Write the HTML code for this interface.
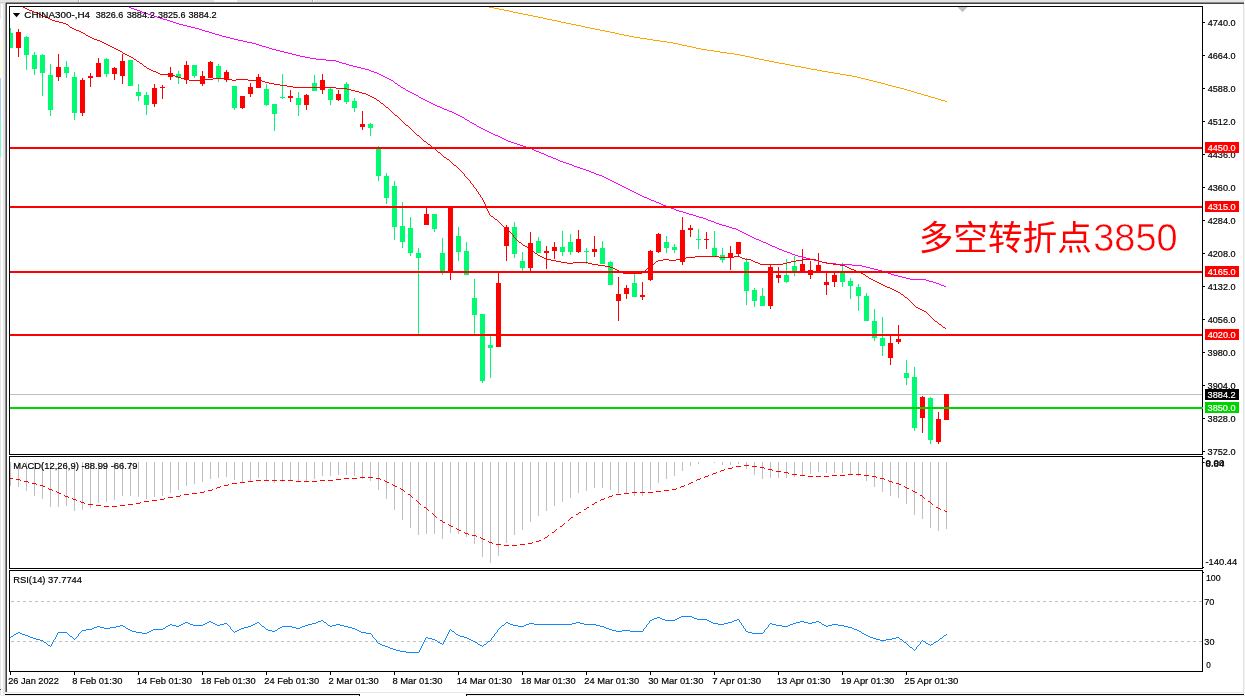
<!DOCTYPE html>
<html><head><meta charset="utf-8"><title>CHINA300-,H4</title>
<style>
html,body{margin:0;padding:0;background:#fff;}
body{width:1245px;height:696px;overflow:hidden;}
svg{display:block;will-change:transform;}
text{font-family:"Liberation Sans",sans-serif;}
.s{font-size:9.8px;fill:#000;stroke:#000;stroke-width:0.2px;}
.w{font-size:9.8px;fill:#fff;stroke:#fff;stroke-width:0.2px;}
</style></head><body>
<svg width="1245" height="696" viewBox="0 0 1245 696">
<rect x="0" y="0" width="1245" height="696" fill="#fff"/>
<g shape-rendering="crispEdges">
<rect x="0" y="0" width="1245" height="2" fill="#e4e4e4"/>
<rect x="0" y="2" width="1245" height="1" fill="#d0d0d0"/>
<rect x="6" y="2" width="1238" height="1" fill="#8c8c8c"/>
<rect x="6" y="3" width="1238" height="1" fill="#444"/>
<rect x="79" y="0" width="1" height="2" fill="#fff"/><rect x="78" y="0" width="1" height="2" fill="#aaa"/>
<rect x="313" y="0" width="1" height="2" fill="#fff"/><rect x="312" y="0" width="1" height="2" fill="#aaa"/>
<rect x="214" y="0" width="23" height="2" fill="#fafafa"/>
<rect x="0" y="3" width="5" height="693" fill="#e6e6e6"/>
<rect x="1" y="4" width="2" height="692" fill="#fbfbfb"/>
<rect x="0" y="19" width="1" height="20" fill="#ffffff"/>
<rect x="0" y="39" width="1" height="39" fill="#ffffd2"/>
<rect x="0" y="78" width="1" height="40" fill="#a8d0f4"/>
<rect x="0" y="118" width="1" height="39" fill="#7ff5d0"/>
<rect x="0" y="689" width="1" height="1" fill="#555"/>
<rect x="5" y="3" width="1" height="689" fill="#909090"/>
<rect x="6" y="3" width="1" height="689" fill="#444"/>
<rect x="1243" y="4" width="1" height="690" fill="#e2e2e2"/>
<rect x="1244" y="0" width="1" height="696" fill="#f4f4f4"/>
<rect x="5" y="692" width="1239" height="1" fill="#e6e6e6"/>
<rect x="5" y="694" width="355" height="1" fill="#000"/><rect x="359" y="694" width="1" height="2" fill="#000"/>
<rect x="466" y="694" width="778" height="1" fill="#000"/><rect x="466" y="694" width="1" height="2" fill="#000"/>
<rect x="0" y="695" width="359" height="1" fill="#f0f0f0"/><rect x="467" y="695" width="778" height="1" fill="#f0f0f0"/>
</g>
<g shape-rendering="crispEdges">
<rect x="10" y="394" width="1192" height="1" fill="#c0c0c0"/>
<rect x="10" y="28" width="1" height="20" fill="#00fb73"/><rect x="10" y="33" width="3" height="15" fill="#00fb73"/>
<rect x="18" y="29" width="1" height="28" fill="#ff0000"/><rect x="16" y="32" width="5" height="16" fill="#ff0000"/>
<rect x="26" y="36" width="1" height="34" fill="#00fb73"/><rect x="24" y="37" width="5" height="18" fill="#00fb73"/>
<rect x="34" y="52" width="1" height="23" fill="#00fb73"/><rect x="32" y="55" width="5" height="14" fill="#00fb73"/>
<rect x="42" y="54" width="1" height="42" fill="#00fb73"/><rect x="40" y="55" width="5" height="18" fill="#00fb73"/>
<rect x="50" y="64" width="1" height="52" fill="#00fb73"/><rect x="48" y="75" width="5" height="35" fill="#00fb73"/>
<rect x="58" y="54" width="1" height="27" fill="#ff0000"/><rect x="56" y="67" width="5" height="10" fill="#ff0000"/>
<rect x="66" y="61" width="1" height="17" fill="#00fb73"/><rect x="64" y="67" width="5" height="6" fill="#00fb73"/>
<rect x="74" y="72" width="1" height="48" fill="#00fb73"/><rect x="72" y="77" width="5" height="36" fill="#00fb73"/>
<rect x="82" y="78" width="1" height="38" fill="#ff0000"/><rect x="80" y="80" width="5" height="33" fill="#ff0000"/>
<rect x="90" y="73" width="1" height="14" fill="#ff0000"/><rect x="88" y="76" width="5" height="2" fill="#ff0000"/>
<rect x="98" y="58" width="1" height="19" fill="#ff0000"/><rect x="96" y="63" width="5" height="14" fill="#ff0000"/>
<rect x="106" y="58" width="1" height="19" fill="#00fb73"/><rect x="104" y="59" width="5" height="15" fill="#00fb73"/>
<rect x="114" y="67" width="1" height="13" fill="#ff0000"/><rect x="112" y="68" width="5" height="6" fill="#ff0000"/>
<rect x="122" y="54" width="1" height="30" fill="#ff0000"/><rect x="120" y="61" width="5" height="15" fill="#ff0000"/>
<rect x="130" y="60" width="1" height="26" fill="#00fb73"/><rect x="128" y="60" width="5" height="26" fill="#00fb73"/>
<rect x="138" y="84" width="1" height="17" fill="#00fb73"/><rect x="136" y="92" width="5" height="4" fill="#00fb73"/>
<rect x="146" y="92" width="1" height="23" fill="#00fb73"/><rect x="144" y="95" width="5" height="10" fill="#00fb73"/>
<rect x="154" y="84" width="1" height="23" fill="#ff0000"/><rect x="152" y="88" width="5" height="16" fill="#ff0000"/>
<rect x="162" y="85" width="1" height="14" fill="#ff0000"/><rect x="160" y="87" width="5" height="1" fill="#ff0000"/>
<rect x="170" y="67" width="1" height="13" fill="#ff0000"/><rect x="168" y="73" width="5" height="4" fill="#ff0000"/>
<rect x="178" y="71" width="1" height="13" fill="#00fb73"/><rect x="176" y="74" width="5" height="4" fill="#00fb73"/>
<rect x="186" y="61" width="1" height="23" fill="#ff0000"/><rect x="184" y="65" width="5" height="15" fill="#ff0000"/>
<rect x="194" y="65" width="1" height="13" fill="#00fb73"/><rect x="192" y="65" width="5" height="11" fill="#00fb73"/>
<rect x="202" y="71" width="1" height="15" fill="#ff0000"/><rect x="200" y="76" width="5" height="8" fill="#ff0000"/>
<rect x="210" y="61" width="1" height="17" fill="#ff0000"/><rect x="208" y="62" width="5" height="16" fill="#ff0000"/>
<rect x="218" y="64" width="1" height="18" fill="#00fb73"/><rect x="216" y="66" width="5" height="12" fill="#00fb73"/>
<rect x="226" y="70" width="1" height="12" fill="#ff0000"/><rect x="224" y="72" width="5" height="8" fill="#ff0000"/>
<rect x="234" y="86" width="1" height="24" fill="#00fb73"/><rect x="232" y="86" width="5" height="22" fill="#00fb73"/>
<rect x="242" y="96" width="1" height="13" fill="#ff0000"/><rect x="240" y="96" width="5" height="12" fill="#ff0000"/>
<rect x="250" y="83" width="1" height="14" fill="#ff0000"/><rect x="248" y="87" width="5" height="7" fill="#ff0000"/>
<rect x="258" y="74" width="1" height="14" fill="#ff0000"/><rect x="256" y="77" width="5" height="11" fill="#ff0000"/>
<rect x="266" y="84" width="1" height="22" fill="#00fb73"/><rect x="264" y="89" width="5" height="16" fill="#00fb73"/>
<rect x="274" y="104" width="1" height="27" fill="#00fb73"/><rect x="272" y="104" width="5" height="10" fill="#00fb73"/>
<rect x="282" y="74" width="1" height="25" fill="#00fb73"/><rect x="280" y="97" width="5" height="1" fill="#00fb73"/>
<rect x="290" y="90" width="1" height="12" fill="#ff0000"/><rect x="288" y="96" width="5" height="2" fill="#ff0000"/>
<rect x="298" y="92" width="1" height="24" fill="#00fb73"/><rect x="296" y="98" width="5" height="7" fill="#00fb73"/>
<rect x="306" y="94" width="1" height="16" fill="#ff0000"/><rect x="304" y="95" width="5" height="10" fill="#ff0000"/>
<rect x="314" y="75" width="1" height="16" fill="#00fb73"/><rect x="312" y="83" width="5" height="8" fill="#00fb73"/>
<rect x="322" y="74" width="1" height="20" fill="#ff0000"/><rect x="320" y="80" width="5" height="10" fill="#ff0000"/>
<rect x="330" y="88" width="1" height="17" fill="#00fb73"/><rect x="328" y="89" width="5" height="11" fill="#00fb73"/>
<rect x="338" y="90" width="1" height="11" fill="#ff0000"/><rect x="336" y="94" width="5" height="6" fill="#ff0000"/>
<rect x="346" y="82" width="1" height="22" fill="#00fb73"/><rect x="344" y="84" width="5" height="18" fill="#00fb73"/>
<rect x="354" y="98" width="1" height="14" fill="#00fb73"/><rect x="352" y="101" width="5" height="7" fill="#00fb73"/>
<rect x="362" y="111" width="1" height="19" fill="#ff0000"/><rect x="360" y="124" width="5" height="3" fill="#ff0000"/>
<rect x="370" y="123" width="1" height="13" fill="#00fb73"/><rect x="368" y="124" width="5" height="4" fill="#00fb73"/>
<rect x="378" y="146" width="1" height="35" fill="#00fb73"/><rect x="376" y="148" width="5" height="28" fill="#00fb73"/>
<rect x="386" y="173" width="1" height="31" fill="#00fb73"/><rect x="384" y="176" width="5" height="22" fill="#00fb73"/>
<rect x="394" y="181" width="1" height="59" fill="#00fb73"/><rect x="392" y="186" width="5" height="41" fill="#00fb73"/>
<rect x="402" y="202" width="1" height="46" fill="#00fb73"/><rect x="400" y="226" width="5" height="16" fill="#00fb73"/>
<rect x="410" y="217" width="1" height="39" fill="#00fb73"/><rect x="408" y="228" width="5" height="25" fill="#00fb73"/>
<rect x="418" y="248" width="1" height="86" fill="#00fb73"/><rect x="416" y="253" width="5" height="5" fill="#00fb73"/>
<rect x="426" y="208" width="1" height="17" fill="#ff0000"/><rect x="424" y="214" width="5" height="11" fill="#ff0000"/>
<rect x="434" y="214" width="1" height="18" fill="#00fb73"/><rect x="432" y="214" width="5" height="15" fill="#00fb73"/>
<rect x="442" y="238" width="1" height="37" fill="#00fb73"/><rect x="440" y="253" width="5" height="18" fill="#00fb73"/>
<rect x="450" y="207" width="1" height="73" fill="#ff0000"/><rect x="448" y="207" width="5" height="64" fill="#ff0000"/>
<rect x="458" y="227" width="1" height="34" fill="#00fb73"/><rect x="456" y="236" width="5" height="16" fill="#00fb73"/>
<rect x="466" y="242" width="1" height="33" fill="#00fb73"/><rect x="464" y="251" width="5" height="24" fill="#00fb73"/>
<rect x="474" y="279" width="1" height="55" fill="#00fb73"/><rect x="472" y="298" width="5" height="17" fill="#00fb73"/>
<rect x="482" y="314" width="1" height="69" fill="#00fb73"/><rect x="480" y="314" width="5" height="67" fill="#00fb73"/>
<rect x="490" y="336" width="1" height="42" fill="#00fb73"/><rect x="488" y="345" width="5" height="3" fill="#00fb73"/>
<rect x="498" y="273" width="1" height="74" fill="#ff0000"/><rect x="496" y="283" width="5" height="64" fill="#ff0000"/>
<rect x="506" y="225" width="1" height="36" fill="#ff0000"/><rect x="504" y="227" width="5" height="19" fill="#ff0000"/>
<rect x="514" y="222" width="1" height="36" fill="#00fb73"/><rect x="512" y="227" width="5" height="27" fill="#00fb73"/>
<rect x="522" y="252" width="1" height="19" fill="#00fb73"/><rect x="520" y="261" width="5" height="7" fill="#00fb73"/>
<rect x="530" y="232" width="1" height="39" fill="#ff0000"/><rect x="528" y="243" width="5" height="25" fill="#ff0000"/>
<rect x="538" y="237" width="1" height="16" fill="#00fb73"/><rect x="536" y="241" width="5" height="12" fill="#00fb73"/>
<rect x="546" y="246" width="1" height="23" fill="#ff0000"/><rect x="544" y="251" width="5" height="2" fill="#ff0000"/>
<rect x="554" y="242" width="1" height="17" fill="#ff0000"/><rect x="552" y="247" width="5" height="4" fill="#ff0000"/>
<rect x="562" y="231" width="1" height="25" fill="#00fb73"/><rect x="560" y="247" width="5" height="5" fill="#00fb73"/>
<rect x="570" y="234" width="1" height="21" fill="#00fb73"/><rect x="568" y="242" width="5" height="10" fill="#00fb73"/>
<rect x="578" y="230" width="1" height="23" fill="#ff0000"/><rect x="576" y="239" width="5" height="13" fill="#ff0000"/>
<rect x="586" y="248" width="1" height="16" fill="#00fb73"/><rect x="584" y="251" width="5" height="1" fill="#00fb73"/>
<rect x="594" y="236" width="1" height="21" fill="#ff0000"/><rect x="592" y="249" width="5" height="3" fill="#ff0000"/>
<rect x="602" y="241" width="1" height="23" fill="#00fb73"/><rect x="600" y="248" width="5" height="16" fill="#00fb73"/>
<rect x="610" y="261" width="1" height="24" fill="#00fb73"/><rect x="608" y="262" width="5" height="23" fill="#00fb73"/>
<rect x="618" y="277" width="1" height="44" fill="#ff0000"/><rect x="616" y="294" width="5" height="7" fill="#ff0000"/>
<rect x="626" y="285" width="1" height="14" fill="#ff0000"/><rect x="624" y="288" width="5" height="6" fill="#ff0000"/>
<rect x="634" y="274" width="1" height="23" fill="#00fb73"/><rect x="632" y="283" width="5" height="14" fill="#00fb73"/>
<rect x="642" y="282" width="1" height="18" fill="#ff0000"/><rect x="640" y="295" width="5" height="2" fill="#ff0000"/>
<rect x="650" y="250" width="1" height="31" fill="#ff0000"/><rect x="648" y="251" width="5" height="29" fill="#ff0000"/>
<rect x="658" y="233" width="1" height="20" fill="#ff0000"/><rect x="656" y="234" width="5" height="18" fill="#ff0000"/>
<rect x="666" y="236" width="1" height="17" fill="#00fb73"/><rect x="664" y="242" width="5" height="6" fill="#00fb73"/>
<rect x="674" y="244" width="1" height="9" fill="#00fb73"/><rect x="672" y="247" width="5" height="3" fill="#00fb73"/>
<rect x="682" y="217" width="1" height="48" fill="#ff0000"/><rect x="680" y="230" width="5" height="32" fill="#ff0000"/>
<rect x="690" y="225" width="1" height="12" fill="#ff0000"/><rect x="688" y="228" width="5" height="2" fill="#ff0000"/>
<rect x="698" y="229" width="1" height="20" fill="#00fb73"/><rect x="696" y="239" width="5" height="1" fill="#00fb73"/>
<rect x="706" y="232" width="1" height="17" fill="#ff0000"/><rect x="704" y="239" width="5" height="1" fill="#ff0000"/>
<rect x="714" y="231" width="1" height="25" fill="#00fb73"/><rect x="712" y="248" width="5" height="8" fill="#00fb73"/>
<rect x="722" y="248" width="1" height="15" fill="#00fb73"/><rect x="720" y="255" width="5" height="5" fill="#00fb73"/>
<rect x="730" y="246" width="1" height="24" fill="#ff0000"/><rect x="728" y="253" width="5" height="5" fill="#ff0000"/>
<rect x="738" y="242" width="1" height="14" fill="#ff0000"/><rect x="736" y="242" width="5" height="12" fill="#ff0000"/>
<rect x="746" y="258" width="1" height="47" fill="#00fb73"/><rect x="744" y="262" width="5" height="29" fill="#00fb73"/>
<rect x="754" y="288" width="1" height="19" fill="#00fb73"/><rect x="752" y="290" width="5" height="11" fill="#00fb73"/>
<rect x="762" y="288" width="1" height="18" fill="#00fb73"/><rect x="760" y="296" width="5" height="10" fill="#00fb73"/>
<rect x="770" y="264" width="1" height="45" fill="#ff0000"/><rect x="768" y="267" width="5" height="39" fill="#ff0000"/>
<rect x="778" y="267" width="1" height="16" fill="#ff0000"/><rect x="776" y="275" width="5" height="3" fill="#ff0000"/>
<rect x="786" y="259" width="1" height="24" fill="#00fb73"/><rect x="784" y="275" width="5" height="7" fill="#00fb73"/>
<rect x="794" y="256" width="1" height="20" fill="#00fb73"/><rect x="792" y="266" width="5" height="7" fill="#00fb73"/>
<rect x="802" y="249" width="1" height="22" fill="#ff0000"/><rect x="800" y="264" width="5" height="7" fill="#ff0000"/>
<rect x="810" y="261" width="1" height="18" fill="#ff0000"/><rect x="808" y="270" width="5" height="5" fill="#ff0000"/>
<rect x="818" y="253" width="1" height="18" fill="#ff0000"/><rect x="816" y="265" width="5" height="6" fill="#ff0000"/>
<rect x="826" y="273" width="1" height="22" fill="#ff0000"/><rect x="824" y="282" width="5" height="3" fill="#ff0000"/>
<rect x="834" y="273" width="1" height="14" fill="#ff0000"/><rect x="832" y="275" width="5" height="7" fill="#ff0000"/>
<rect x="842" y="263" width="1" height="24" fill="#00fb73"/><rect x="840" y="273" width="5" height="9" fill="#00fb73"/>
<rect x="850" y="278" width="1" height="21" fill="#00fb73"/><rect x="848" y="281" width="5" height="5" fill="#00fb73"/>
<rect x="858" y="284" width="1" height="27" fill="#00fb73"/><rect x="856" y="287" width="5" height="9" fill="#00fb73"/>
<rect x="866" y="293" width="1" height="28" fill="#00fb73"/><rect x="864" y="296" width="5" height="25" fill="#00fb73"/>
<rect x="874" y="309" width="1" height="32" fill="#00fb73"/><rect x="872" y="321" width="5" height="17" fill="#00fb73"/>
<rect x="882" y="317" width="1" height="39" fill="#00fb73"/><rect x="880" y="338" width="5" height="8" fill="#00fb73"/>
<rect x="890" y="336" width="1" height="29" fill="#ff0000"/><rect x="888" y="343" width="5" height="15" fill="#ff0000"/>
<rect x="898" y="325" width="1" height="19" fill="#ff0000"/><rect x="896" y="339" width="5" height="3" fill="#ff0000"/>
<rect x="906" y="360" width="1" height="25" fill="#00fb73"/><rect x="904" y="373" width="5" height="5" fill="#00fb73"/>
<rect x="914" y="367" width="1" height="64" fill="#00fb73"/><rect x="912" y="377" width="5" height="51" fill="#00fb73"/>
<rect x="922" y="396" width="1" height="37" fill="#ff0000"/><rect x="920" y="397" width="5" height="21" fill="#ff0000"/>
<rect x="930" y="397" width="1" height="47" fill="#00fb73"/><rect x="928" y="398" width="5" height="42" fill="#00fb73"/>
<rect x="938" y="412" width="1" height="32" fill="#ff0000"/><rect x="936" y="419" width="5" height="23" fill="#ff0000"/>
<rect x="946" y="394" width="1" height="26" fill="#ff0000"/><rect x="944" y="394" width="5" height="26" fill="#ff0000"/>
</g>
<path d="M489 7h5v1h-5zM494 8h5v1h-5zM499 9h5v1h-5zM504 10h5v1h-5zM509 11h4v1h-4zM513 12h5v1h-5zM518 13h5v1h-5zM523 14h5v1h-5zM528 15h5v1h-5zM533 16h5v1h-5zM538 17h5v1h-5zM543 18h4v1h-4zM547 19h5v1h-5zM552 20h5v1h-5zM557 21h4v1h-4zM561 22h5v1h-5zM566 23h5v1h-5zM571 24h5v1h-5zM576 25h5v1h-5zM581 26h4v1h-4zM585 27h5v1h-5zM590 28h5v1h-5zM595 29h5v1h-5zM600 30h5v1h-5zM605 31h5v1h-5zM610 32h5v1h-5zM615 33h4v1h-4zM619 34h5v1h-5zM624 35h5v1h-5zM629 36h5v1h-5zM634 37h6v1h-6zM640 38h7v1h-7zM647 39h6v1h-6zM653 40h7v1h-7zM660 41h7v1h-7zM667 42h6v1h-6zM673 43h5v1h-5zM678 44h4v1h-4zM682 45h5v1h-5zM687 46h5v1h-5zM692 47h4v1h-4zM696 48h5v1h-5zM701 49h6v1h-6zM707 50h7v1h-7zM714 51h6v1h-6zM720 52h7v1h-7zM727 53h7v1h-7zM734 54h6v1h-6zM740 55h5v1h-5zM745 56h5v1h-5zM750 57h4v1h-4zM754 58h5v1h-5zM759 59h5v1h-5zM764 60h5v1h-5zM769 61h5v1h-5zM774 62h5v1h-5zM779 63h6v1h-6zM785 64h5v1h-5zM790 65h5v1h-5zM795 66h6v1h-6zM801 67h5v1h-5zM806 68h5v1h-5zM811 69h6v1h-6zM817 70h5v1h-5zM822 71h6v1h-6zM828 72h6v1h-6zM834 73h6v1h-6zM840 74h6v1h-6zM846 75h6v1h-6zM852 76h5v1h-5zM857 77h4v1h-4zM861 78h4v1h-4zM865 79h4v1h-4zM869 80h4v1h-4zM873 81h4v1h-4zM877 82h4v1h-4zM881 83h4v1h-4zM885 84h3v1h-3zM888 85h4v1h-4zM892 86h4v1h-4zM896 87h4v1h-4zM900 88h4v1h-4zM904 89h3v1h-3zM907 90h4v1h-4zM911 91h3v1h-3zM914 92h3v1h-3zM917 93h4v1h-4zM921 94h3v1h-3zM924 95h4v1h-4zM928 96h3v1h-3zM931 97h4v1h-4zM935 98h3v1h-3zM938 99h3v1h-3zM941 100h4v1h-4zM945 101h2v1h-2z" fill="#ffa500" shape-rendering="crispEdges"/>
<path d="M129 7h2v1h-2zM131 8h3v1h-3zM134 9h3v1h-3zM137 10h3v1h-3zM140 11h2v1h-2zM142 12h3v1h-3zM145 13h3v1h-3zM148 14h3v1h-3zM151 15h3v1h-3zM154 16h3v1h-3zM157 17h3v1h-3zM160 18h3v1h-3zM163 19h4v1h-4zM167 20h3v1h-3zM170 21h3v1h-3zM173 22h3v1h-3zM176 23h3v1h-3zM179 24h4v1h-4zM183 25h4v1h-4zM187 26h4v1h-4zM191 27h4v1h-4zM195 28h4v1h-4zM199 29h3v1h-3zM202 30h3v1h-3zM205 31h4v1h-4zM209 32h3v1h-3zM212 33h3v1h-3zM215 34h4v1h-4zM219 35h3v1h-3zM222 36h4v1h-4zM226 37h4v1h-4zM230 38h4v1h-4zM234 39h4v1h-4zM238 40h5v1h-5zM243 41h4v1h-4zM247 42h5v1h-5zM252 43h4v1h-4zM256 44h3v1h-3zM259 45h3v1h-3zM262 46h4v1h-4zM266 47h3v1h-3zM269 48h3v1h-3zM272 49h4v1h-4zM276 50h4v1h-4zM280 51h4v1h-4zM284 52h4v1h-4zM288 53h4v1h-4zM292 54h4v1h-4zM296 55h4v1h-4zM300 56h5v1h-5zM305 57h5v1h-5zM310 58h6v1h-6zM316 59h10v1h-10zM326 60h10v1h-10zM336 61h3v1h-3zM339 62h3v1h-3zM342 63h4v1h-4zM346 64h3v1h-3zM349 65h4v1h-4zM353 66h4v1h-4zM357 67h4v1h-4zM361 68h4v1h-4zM365 69h4v1h-4zM369 70h2v1h-2zM371 71h3v1h-3zM374 72h3v1h-3zM377 73h2v1h-2zM379 74h2v1h-2zM381 75h2v1h-2zM383 76h2v1h-2zM385 77h2v1h-2zM387 78h2v1h-2zM389 79h2v1h-2zM391 80h2v1h-2zM393 81h1v1h-1zM394 82h1v1h-1zM395 83h2v1h-2zM397 84h1v1h-1zM398 85h2v1h-2zM400 86h1v1h-1zM401 87h2v1h-2zM403 88h2v1h-2zM405 89h1v1h-1zM406 90h2v1h-2zM408 91h2v1h-2zM410 92h2v1h-2zM412 93h2v1h-2zM414 94h2v1h-2zM416 95h2v1h-2zM418 96h1v1h-1zM419 97h2v1h-2zM421 98h2v1h-2zM423 99h2v1h-2zM425 100h2v1h-2zM427 101h2v1h-2zM429 102h2v1h-2zM431 103h2v1h-2zM433 104h2v1h-2zM435 105h2v1h-2zM437 106h3v1h-3zM440 107h2v1h-2zM442 108h2v1h-2zM444 109h3v1h-3zM447 110h2v1h-2zM449 111h3v1h-3zM452 112h2v1h-2zM454 113h2v1h-2zM456 114h2v1h-2zM458 115h2v1h-2zM460 116h2v1h-2zM462 117h2v1h-2zM464 118h1v1h-1zM465 119h2v1h-2zM467 120h2v1h-2zM469 121h1v1h-1zM470 122h2v1h-2zM472 123h2v1h-2zM474 124h2v1h-2zM476 125h1v1h-1zM477 126h2v1h-2zM479 127h2v1h-2zM481 128h2v1h-2zM483 129h2v1h-2zM485 130h2v1h-2zM487 131h2v1h-2zM489 132h2v1h-2zM491 133h2v1h-2zM493 134h2v1h-2zM495 135h3v1h-3zM498 136h2v1h-2zM500 137h2v1h-2zM502 138h2v1h-2zM504 139h2v1h-2zM506 140h2v1h-2zM508 141h3v1h-3zM511 142h3v1h-3zM514 143h3v1h-3zM517 144h3v1h-3zM520 145h3v1h-3zM523 146h3v1h-3zM526 147h3v1h-3zM529 148h3v1h-3zM532 149h2v1h-2zM534 150h2v1h-2zM536 151h3v1h-3zM539 152h2v1h-2zM541 153h3v1h-3zM544 154h2v1h-2zM546 155h2v1h-2zM548 156h3v1h-3zM551 157h2v1h-2zM553 158h3v1h-3zM556 159h2v1h-2zM558 160h2v1h-2zM560 161h3v1h-3zM563 162h3v1h-3zM566 163h3v1h-3zM569 164h3v1h-3zM572 165h2v1h-2zM574 166h3v1h-3zM577 167h3v1h-3zM580 168h3v1h-3zM583 169h3v1h-3zM586 170h3v1h-3zM589 171h2v1h-2zM591 172h3v1h-3zM594 173h2v1h-2zM596 174h3v1h-3zM599 175h3v1h-3zM602 176h2v1h-2zM604 177h2v1h-2zM606 178h2v1h-2zM608 179h2v1h-2zM610 180h2v1h-2zM612 181h2v1h-2zM614 182h2v1h-2zM616 183h2v1h-2zM618 184h2v1h-2zM620 185h2v1h-2zM622 186h2v1h-2zM624 187h2v1h-2zM626 188h2v1h-2zM628 189h2v1h-2zM630 190h2v1h-2zM632 191h2v1h-2zM634 192h2v1h-2zM636 193h2v1h-2zM638 194h2v1h-2zM640 195h2v1h-2zM642 196h2v1h-2zM644 197h3v1h-3zM647 198h2v1h-2zM649 199h2v1h-2zM651 200h3v1h-3zM654 201h2v1h-2zM656 202h3v1h-3zM659 203h2v1h-2zM661 204h2v1h-2zM663 205h3v1h-3zM666 206h2v1h-2zM668 207h3v1h-3zM671 208h3v1h-3zM674 209h2v1h-2zM676 210h3v1h-3zM679 211h4v1h-4zM683 212h3v1h-3zM686 213h3v1h-3zM689 214h4v1h-4zM693 215h3v1h-3zM696 216h3v1h-3zM699 217h4v1h-4zM703 218h3v1h-3zM706 219h2v1h-2zM708 220h3v1h-3zM711 221h3v1h-3zM714 222h2v1h-2zM716 223h3v1h-3zM719 224h3v1h-3zM722 225h4v1h-4zM726 226h3v1h-3zM729 227h3v1h-3zM732 228h4v1h-4zM736 229h2v1h-2zM738 230h2v1h-2zM740 231h2v1h-2zM742 232h2v1h-2zM744 233h2v1h-2zM746 234h2v1h-2zM748 235h2v1h-2zM750 236h2v1h-2zM752 237h2v1h-2zM754 238h2v1h-2zM756 239h3v1h-3zM759 240h2v1h-2zM761 241h2v1h-2zM763 242h3v1h-3zM766 243h2v1h-2zM768 244h2v1h-2zM770 245h2v1h-2zM772 246h3v1h-3zM775 247h2v1h-2zM777 248h2v1h-2zM779 249h3v1h-3zM782 250h2v1h-2zM784 251h3v1h-3zM787 252h3v1h-3zM790 253h2v1h-2zM792 254h3v1h-3zM795 255h3v1h-3zM798 256h4v1h-4zM802 257h4v1h-4zM806 258h4v1h-4zM810 259h4v1h-4zM814 260h4v1h-4zM818 261h4v1h-4zM822 262h4v1h-4zM826 263h10v1h-10zM836 264h16v1h-16zM852 265h10v1h-10zM862 266h4v1h-4zM866 267h4v1h-4zM870 268h4v1h-4zM874 269h4v1h-4zM878 270h4v1h-4zM882 271h3v1h-3zM885 272h3v1h-3zM888 273h3v1h-3zM891 274h3v1h-3zM894 275h4v1h-4zM898 276h4v1h-4zM902 277h4v1h-4zM906 278h4v1h-4zM910 279h16v1h-16zM926 280h3v1h-3zM929 281h4v1h-4zM933 282h3v1h-3zM936 283h3v1h-3zM939 284h2v1h-2zM941 285h3v1h-3zM944 286h2v1h-2z" fill="#ff00ff" shape-rendering="crispEdges"/>
<path d="M23 7h2v1h-2zM25 8h2v1h-2zM27 9h2v1h-2zM29 10h3v1h-3zM32 11h2v1h-2zM34 12h3v1h-3zM37 13h2v1h-2zM39 14h2v1h-2zM41 15h2v1h-2zM43 16h2v1h-2zM45 17h3v1h-3zM48 18h2v1h-2zM50 19h2v1h-2zM52 20h3v1h-3zM55 21h4v1h-4zM59 22h4v1h-4zM63 23h3v1h-3zM66 24h2v1h-2zM68 25h1v1h-1zM69 26h1v1h-1zM70 27h2v1h-2zM72 28h2v1h-2zM74 29h2v1h-2zM76 30h3v1h-3zM79 31h2v1h-2zM81 32h2v1h-2zM83 33h2v1h-2zM85 34h1v1h-1zM86 35h2v1h-2zM88 36h2v1h-2zM90 37h2v1h-2zM92 38h2v1h-2zM94 39h3v1h-3zM97 40h3v1h-3zM100 41h2v1h-2zM102 42h2v1h-2zM104 43h2v1h-2zM106 44h2v1h-2zM108 45h2v1h-2zM110 46h2v1h-2zM112 47h2v1h-2zM114 48h2v1h-2zM116 49h2v1h-2zM118 50h2v1h-2zM120 51h2v1h-2zM122 52h1v1h-1zM123 53h2v1h-2zM125 54h2v1h-2zM127 55h2v1h-2zM129 56h2v1h-2zM131 57h2v1h-2zM133 58h1v1h-1zM134 59h2v1h-2zM136 60h1v1h-1zM137 61h2v1h-2zM139 62h1v1h-1zM140 63h2v1h-2zM142 64h1v1h-1zM143 65h1v1h-1zM144 66h2v1h-2zM146 67h1v1h-1zM147 68h2v1h-2zM149 69h2v1h-2zM151 70h2v1h-2zM153 71h3v1h-3zM156 72h2v1h-2zM158 73h2v1h-2zM160 74h10v1h-10zM170 75h5v1h-5zM175 76h3v1h-3zM178 77h3v1h-3zM181 78h4v1h-4zM213 78h15v1h-15zM185 79h4v1h-4zM204 79h9v1h-9zM228 79h4v1h-4zM236 79h12v1h-12zM189 80h15v1h-15zM232 80h4v1h-4zM248 80h14v1h-14zM262 81h3v1h-3zM265 82h4v1h-4zM269 83h5v1h-5zM274 84h6v1h-6zM280 85h7v1h-7zM287 86h6v1h-6zM293 87h43v1h-43zM336 88h11v1h-11zM347 89h4v1h-4zM351 90h4v1h-4zM355 91h4v1h-4zM359 92h3v1h-3zM362 93h4v1h-4zM366 94h2v1h-2zM368 95h2v1h-2zM370 96h2v1h-2zM372 97h2v1h-2zM374 98h2v1h-2zM376 99h1v1h-1zM377 100h2v1h-2zM379 101h1v1h-1zM380 102h1v1h-1zM381 103h2v1h-2zM383 104h1v1h-1zM384 105h1v1h-1zM385 106h1v1h-1zM386 107h2v1h-2zM388 108h1v1h-1zM389 109h1v1h-1zM390 110h1v1h-1zM391 111h1v1h-1zM392 112h1v1h-1zM393 113h1v1h-1zM394 114h1v1h-1zM395 115h2v1h-2zM397 116h1v1h-1zM398 117h1v1h-1zM399 118h1v1h-1zM400 119h1v1h-1zM401 120h1v1h-1zM402 121h1v1h-1zM403 122h1v1h-1zM404 123h1v1h-1zM405 124h1v1h-1zM406 125h2v1h-2zM408 126h1v1h-1zM409 127h1v1h-1zM410 128h1v1h-1zM411 129h1v1h-1zM412 130h1v1h-1zM413 131h1v1h-1zM414 132h1v1h-1zM415 133h1v1h-1zM416 134h1v1h-1zM417 135h2v1h-2zM419 136h1v1h-1zM420 137h1v1h-1zM421 138h1v1h-1zM422 139h1v1h-1zM423 140h1v1h-1zM424 141h2v1h-2zM426 142h1v1h-1zM427 143h1v1h-1zM428 144h2v1h-2zM430 145h1v1h-1zM431 146h1v1h-1zM432 147h2v1h-2zM434 148h1v1h-1zM435 149h1v1h-1zM436 150h1v1h-1zM437 151h1v1h-1zM438 152h2v1h-2zM440 153h1v1h-1zM441 154h1v1h-1zM442 155h1v1h-1zM443 156h1v1h-1zM444 157h2v1h-2zM446 158h1v1h-1zM447 159h2v1h-2zM449 160h1v1h-1zM450 161h1v1h-1zM451 162h1v1h-1zM452 163h1v1h-1zM453 164h1v1h-1zM454 165h2v1h-2zM456 166h1v1h-1zM457 167h1v1h-1zM458 168h1v1h-1zM459 169h1v1h-1zM460 170h1v1h-1zM461 171h1v1h-1zM462 172h1v1h-1zM463 173h1v1h-1zM464 174h1v1h-1zM464 175h1v1h-1zM465 176h1v1h-1zM466 177h1v1h-1zM467 178h1v1h-1zM468 179h1v1h-1zM469 180h1v1h-1zM470 181h1v1h-1zM470 182h1v1h-1zM471 183h1v1h-1zM472 184h1v1h-1zM473 185h1v1h-1zM473 186h1v1h-1zM474 187h1v1h-1zM475 188h1v1h-1zM476 189h1v1h-1zM476 190h1v1h-1zM477 191h1v1h-1zM478 192h1v1h-1zM478 193h1v1h-1zM479 194h1v1h-1zM480 195h1v1h-1zM480 196h1v1h-1zM481 197h1v1h-1zM482 198h1v1h-1zM482 199h1v1h-1zM483 200h1v1h-1zM483 201h1v1h-1zM484 202h1v1h-1zM484 203h1v1h-1zM485 204h1v1h-1zM485 205h1v1h-1zM485 206h1v1h-1zM486 207h1v1h-1zM486 208h1v1h-1zM487 209h1v1h-1zM487 210h1v1h-1zM488 211h1v1h-1zM488 212h1v1h-1zM489 213h1v1h-1zM489 214h1v1h-1zM490 215h1v1h-1zM491 216h2v1h-2zM493 217h1v1h-1zM494 218h1v1h-1zM495 219h2v1h-2zM497 220h1v1h-1zM498 221h1v1h-1zM499 222h1v1h-1zM500 223h1v1h-1zM501 224h1v1h-1zM502 225h1v1h-1zM503 226h1v1h-1zM504 227h1v1h-1zM505 228h1v1h-1zM506 229h2v1h-2zM508 230h1v1h-1zM509 231h1v1h-1zM510 232h1v1h-1zM511 233h1v1h-1zM512 234h1v1h-1zM513 235h1v1h-1zM513 236h1v1h-1zM514 237h1v1h-1zM515 238h1v1h-1zM516 239h1v1h-1zM517 240h1v1h-1zM518 241h1v1h-1zM519 242h2v1h-2zM521 243h1v1h-1zM522 244h1v1h-1zM523 245h2v1h-2zM525 246h2v1h-2zM527 247h2v1h-2zM529 248h1v1h-1zM530 249h1v1h-1zM531 250h2v1h-2zM533 251h1v1h-1zM534 252h1v1h-1zM535 253h2v1h-2zM537 254h1v1h-1zM538 255h2v1h-2zM540 256h2v1h-2zM695 256h24v1h-24zM734 256h6v1h-6zM542 257h2v1h-2zM686 257h9v1h-9zM719 257h15v1h-15zM740 257h2v1h-2zM544 258h3v1h-3zM682 258h4v1h-4zM742 258h3v1h-3zM547 259h4v1h-4zM663 259h6v1h-6zM676 259h6v1h-6zM745 259h6v1h-6zM802 259h14v1h-14zM551 260h5v1h-5zM658 260h5v1h-5zM669 260h7v1h-7zM751 260h2v1h-2zM796 260h6v1h-6zM816 260h3v1h-3zM556 261h5v1h-5zM656 261h2v1h-2zM753 261h2v1h-2zM791 261h5v1h-5zM819 261h3v1h-3zM561 262h6v1h-6zM573 262h15v1h-15zM655 262h1v1h-1zM755 262h3v1h-3zM787 262h4v1h-4zM822 262h5v1h-5zM567 263h6v1h-6zM588 263h4v1h-4zM654 263h1v1h-1zM758 263h2v1h-2zM783 263h4v1h-4zM827 263h6v1h-6zM592 264h6v1h-6zM652 264h2v1h-2zM760 264h23v1h-23zM833 264h7v1h-7zM598 265h7v1h-7zM651 265h1v1h-1zM840 265h5v1h-5zM605 266h5v1h-5zM650 266h1v1h-1zM845 266h2v1h-2zM610 267h3v1h-3zM648 267h2v1h-2zM847 267h2v1h-2zM613 268h2v1h-2zM647 268h1v1h-1zM849 268h2v1h-2zM615 269h2v1h-2zM646 269h1v1h-1zM851 269h3v1h-3zM617 270h2v1h-2zM645 270h1v1h-1zM854 270h2v1h-2zM619 271h2v1h-2zM643 271h2v1h-2zM856 271h3v1h-3zM621 272h2v1h-2zM642 272h1v1h-1zM859 272h2v1h-2zM623 273h19v1h-19zM861 273h2v1h-2zM863 274h2v1h-2zM865 275h1v1h-1zM866 276h2v1h-2zM868 277h1v1h-1zM869 278h2v1h-2zM871 279h2v1h-2zM873 280h2v1h-2zM875 281h2v1h-2zM877 282h2v1h-2zM879 283h2v1h-2zM881 284h2v1h-2zM883 285h2v1h-2zM885 286h2v1h-2zM887 287h3v1h-3zM890 288h2v1h-2zM892 289h2v1h-2zM894 290h2v1h-2zM896 291h2v1h-2zM898 292h2v1h-2zM900 293h1v1h-1zM901 294h2v1h-2zM903 295h1v1h-1zM904 296h1v1h-1zM905 297h2v1h-2zM907 298h1v1h-1zM908 299h1v1h-1zM909 300h1v1h-1zM910 301h1v1h-1zM911 302h1v1h-1zM912 303h1v1h-1zM913 304h1v1h-1zM914 305h1v1h-1zM915 306h1v1h-1zM916 307h2v1h-2zM918 308h2v1h-2zM920 309h2v1h-2zM922 310h2v1h-2zM924 311h2v1h-2zM926 312h1v1h-1zM927 313h1v1h-1zM928 314h1v1h-1zM929 315h1v1h-1zM930 316h1v1h-1zM931 317h1v1h-1zM932 318h1v1h-1zM933 319h1v1h-1zM934 320h1v1h-1zM935 321h2v1h-2zM937 322h1v1h-1zM938 323h1v1h-1zM939 324h2v1h-2zM941 325h1v1h-1zM942 326h1v1h-1zM943 327h2v1h-2zM945 328h1v1h-1z" fill="#ff0000" shape-rendering="crispEdges"/>
<g shape-rendering="crispEdges">
<rect x="10" y="147" width="1192" height="2" fill="#ff0000"/>
<rect x="10" y="206" width="1192" height="2" fill="#ff0000"/>
<rect x="10" y="271" width="1192" height="2" fill="#ff0000"/>
<rect x="10" y="334" width="1192" height="2" fill="#ff0000"/>
</g>
<g shape-rendering="crispEdges">
<rect x="10" y="462" width="1" height="24" fill="#c0c0c0"/><rect x="18" y="462" width="1" height="25" fill="#c0c0c0"/><rect x="26" y="462" width="1" height="29" fill="#c0c0c0"/><rect x="34" y="462" width="1" height="34" fill="#c0c0c0"/><rect x="42" y="462" width="1" height="37" fill="#c0c0c0"/><rect x="50" y="462" width="1" height="45" fill="#c0c0c0"/><rect x="58" y="462" width="1" height="45" fill="#c0c0c0"/><rect x="66" y="462" width="1" height="44" fill="#c0c0c0"/><rect x="74" y="462" width="1" height="49" fill="#c0c0c0"/><rect x="82" y="462" width="1" height="48" fill="#c0c0c0"/><rect x="90" y="462" width="1" height="46" fill="#c0c0c0"/><rect x="98" y="462" width="1" height="41" fill="#c0c0c0"/><rect x="106" y="462" width="1" height="40" fill="#c0c0c0"/><rect x="114" y="462" width="1" height="38" fill="#c0c0c0"/><rect x="122" y="462" width="1" height="34" fill="#c0c0c0"/><rect x="130" y="462" width="1" height="34" fill="#c0c0c0"/><rect x="138" y="462" width="1" height="35" fill="#c0c0c0"/><rect x="146" y="462" width="1" height="37" fill="#c0c0c0"/><rect x="154" y="462" width="1" height="35" fill="#c0c0c0"/><rect x="162" y="462" width="1" height="34" fill="#c0c0c0"/><rect x="170" y="462" width="1" height="31" fill="#c0c0c0"/><rect x="178" y="462" width="1" height="28" fill="#c0c0c0"/><rect x="186" y="462" width="1" height="24" fill="#c0c0c0"/><rect x="194" y="462" width="1" height="22" fill="#c0c0c0"/><rect x="202" y="462" width="1" height="20" fill="#c0c0c0"/><rect x="210" y="462" width="1" height="17" fill="#c0c0c0"/><rect x="218" y="462" width="1" height="16" fill="#c0c0c0"/><rect x="226" y="462" width="1" height="15" fill="#c0c0c0"/><rect x="234" y="462" width="1" height="18" fill="#c0c0c0"/><rect x="242" y="462" width="1" height="20" fill="#c0c0c0"/><rect x="250" y="462" width="1" height="19" fill="#c0c0c0"/><rect x="258" y="462" width="1" height="16" fill="#c0c0c0"/><rect x="266" y="462" width="1" height="18" fill="#c0c0c0"/><rect x="274" y="462" width="1" height="21" fill="#c0c0c0"/><rect x="282" y="462" width="1" height="20" fill="#c0c0c0"/><rect x="290" y="462" width="1" height="19" fill="#c0c0c0"/><rect x="298" y="462" width="1" height="20" fill="#c0c0c0"/><rect x="306" y="462" width="1" height="19" fill="#c0c0c0"/><rect x="314" y="462" width="1" height="17" fill="#c0c0c0"/><rect x="322" y="462" width="1" height="14" fill="#c0c0c0"/><rect x="330" y="462" width="1" height="14" fill="#c0c0c0"/><rect x="338" y="462" width="1" height="13" fill="#c0c0c0"/><rect x="346" y="462" width="1" height="13" fill="#c0c0c0"/><rect x="354" y="462" width="1" height="14" fill="#c0c0c0"/><rect x="362" y="462" width="1" height="17" fill="#c0c0c0"/><rect x="370" y="462" width="1" height="19" fill="#c0c0c0"/><rect x="378" y="462" width="1" height="28" fill="#c0c0c0"/><rect x="386" y="462" width="1" height="37" fill="#c0c0c0"/><rect x="394" y="462" width="1" height="48" fill="#c0c0c0"/><rect x="402" y="462" width="1" height="58" fill="#c0c0c0"/><rect x="410" y="462" width="1" height="66" fill="#c0c0c0"/><rect x="418" y="462" width="1" height="73" fill="#c0c0c0"/><rect x="426" y="462" width="1" height="72" fill="#c0c0c0"/><rect x="434" y="462" width="1" height="72" fill="#c0c0c0"/><rect x="442" y="462" width="1" height="77" fill="#c0c0c0"/><rect x="450" y="462" width="1" height="71" fill="#c0c0c0"/><rect x="458" y="462" width="1" height="72" fill="#c0c0c0"/><rect x="466" y="462" width="1" height="75" fill="#c0c0c0"/><rect x="474" y="462" width="1" height="82" fill="#c0c0c0"/><rect x="482" y="462" width="1" height="95" fill="#c0c0c0"/><rect x="490" y="462" width="1" height="101" fill="#c0c0c0"/><rect x="498" y="462" width="1" height="94" fill="#c0c0c0"/><rect x="506" y="462" width="1" height="81" fill="#c0c0c0"/><rect x="514" y="462" width="1" height="73" fill="#c0c0c0"/><rect x="522" y="462" width="1" height="68" fill="#c0c0c0"/><rect x="530" y="462" width="1" height="60" fill="#c0c0c0"/><rect x="538" y="462" width="1" height="54" fill="#c0c0c0"/><rect x="546" y="462" width="1" height="49" fill="#c0c0c0"/><rect x="554" y="462" width="1" height="44" fill="#c0c0c0"/><rect x="562" y="462" width="1" height="40" fill="#c0c0c0"/><rect x="570" y="462" width="1" height="36" fill="#c0c0c0"/><rect x="578" y="462" width="1" height="31" fill="#c0c0c0"/><rect x="586" y="462" width="1" height="29" fill="#c0c0c0"/><rect x="594" y="462" width="1" height="26" fill="#c0c0c0"/><rect x="602" y="462" width="1" height="26" fill="#c0c0c0"/><rect x="610" y="462" width="1" height="28" fill="#c0c0c0"/><rect x="618" y="462" width="1" height="31" fill="#c0c0c0"/><rect x="626" y="462" width="1" height="32" fill="#c0c0c0"/><rect x="634" y="462" width="1" height="34" fill="#c0c0c0"/><rect x="642" y="462" width="1" height="34" fill="#c0c0c0"/><rect x="650" y="462" width="1" height="28" fill="#c0c0c0"/><rect x="658" y="462" width="1" height="21" fill="#c0c0c0"/><rect x="666" y="462" width="1" height="17" fill="#c0c0c0"/><rect x="674" y="462" width="1" height="14" fill="#c0c0c0"/><rect x="682" y="462" width="1" height="9" fill="#c0c0c0"/><rect x="690" y="462" width="1" height="4" fill="#c0c0c0"/><rect x="698" y="462" width="1" height="2" fill="#c0c0c0"/><rect x="714" y="462" width="1" height="1" fill="#c0c0c0"/><rect x="722" y="462" width="1" height="3" fill="#c0c0c0"/><rect x="730" y="462" width="1" height="3" fill="#c0c0c0"/><rect x="738" y="462" width="1" height="2" fill="#c0c0c0"/><rect x="746" y="462" width="1" height="7" fill="#c0c0c0"/><rect x="754" y="462" width="1" height="13" fill="#c0c0c0"/><rect x="762" y="462" width="1" height="17" fill="#c0c0c0"/><rect x="770" y="462" width="1" height="16" fill="#c0c0c0"/><rect x="778" y="462" width="1" height="16" fill="#c0c0c0"/><rect x="786" y="462" width="1" height="16" fill="#c0c0c0"/><rect x="794" y="462" width="1" height="15" fill="#c0c0c0"/><rect x="802" y="462" width="1" height="13" fill="#c0c0c0"/><rect x="810" y="462" width="1" height="12" fill="#c0c0c0"/><rect x="818" y="462" width="1" height="10" fill="#c0c0c0"/><rect x="826" y="462" width="1" height="11" fill="#c0c0c0"/><rect x="834" y="462" width="1" height="11" fill="#c0c0c0"/><rect x="842" y="462" width="1" height="11" fill="#c0c0c0"/><rect x="850" y="462" width="1" height="12" fill="#c0c0c0"/><rect x="858" y="462" width="1" height="14" fill="#c0c0c0"/><rect x="866" y="462" width="1" height="19" fill="#c0c0c0"/><rect x="874" y="462" width="1" height="25" fill="#c0c0c0"/><rect x="882" y="462" width="1" height="30" fill="#c0c0c0"/><rect x="890" y="462" width="1" height="34" fill="#c0c0c0"/><rect x="898" y="462" width="1" height="36" fill="#c0c0c0"/><rect x="906" y="462" width="1" height="42" fill="#c0c0c0"/><rect x="914" y="462" width="1" height="53" fill="#c0c0c0"/><rect x="922" y="462" width="1" height="57" fill="#c0c0c0"/><rect x="930" y="462" width="1" height="66" fill="#c0c0c0"/><rect x="938" y="462" width="1" height="69" fill="#c0c0c0"/><rect x="946" y="462" width="1" height="67" fill="#c0c0c0"/>
</g>
<path d="M744 465h5v1h-5zM736 466h5v1h-5zM752 466h5v1h-5zM732 467h1v1h-1zM760 467h4v1h-4zM728 468h4v1h-4zM764 468h1v1h-1zM724 469h1v1h-1zM768 469h4v1h-4zM721 470h3v1h-3zM772 470h1v1h-1zM720 471h1v1h-1zM776 471h5v1h-5zM716 472h1v1h-1zM784 472h4v1h-4zM713 473h3v1h-3zM788 473h1v1h-1zM712 474h1v1h-1zM792 474h5v1h-5zM848 474h5v1h-5zM856 474h5v1h-5zM708 475h1v1h-1zM800 475h5v1h-5zM832 475h5v1h-5zM840 475h5v1h-5zM864 475h5v1h-5zM705 476h3v1h-3zM808 476h5v1h-5zM816 476h5v1h-5zM824 476h5v1h-5zM872 476h4v1h-4zM360 477h5v1h-5zM368 477h5v1h-5zM704 477h1v1h-1zM876 477h1v1h-1zM10 478h3v1h-3zM344 478h5v1h-5zM352 478h5v1h-5zM376 478h4v1h-4zM700 478h1v1h-1zM880 478h4v1h-4zM16 479h4v1h-4zM336 479h5v1h-5zM380 479h1v1h-1zM697 479h3v1h-3zM884 479h1v1h-1zM20 480h1v1h-1zM256 480h5v1h-5zM264 480h5v1h-5zM272 480h5v1h-5zM280 480h5v1h-5zM288 480h5v1h-5zM320 480h5v1h-5zM328 480h5v1h-5zM384 480h1v1h-1zM696 480h1v1h-1zM888 480h1v1h-1zM24 481h4v1h-4zM248 481h5v1h-5zM296 481h5v1h-5zM304 481h5v1h-5zM312 481h5v1h-5zM385 481h2v1h-2zM889 481h3v1h-3zM28 482h1v1h-1zM240 482h5v1h-5zM387 482h2v1h-2zM691 482h2v1h-2zM892 482h1v1h-1zM32 483h4v1h-4zM232 483h5v1h-5zM689 483h2v1h-2zM896 483h3v1h-3zM36 484h1v1h-1zM228 484h1v1h-1zM392 484h1v1h-1zM688 484h1v1h-1zM899 484h2v1h-2zM40 485h3v1h-3zM224 485h4v1h-4zM393 485h2v1h-2zM684 485h1v1h-1zM43 486h2v1h-2zM220 486h1v1h-1zM395 486h2v1h-2zM681 486h3v1h-3zM904 486h1v1h-1zM217 487h3v1h-3zM680 487h1v1h-1zM905 487h2v1h-2zM48 488h1v1h-1zM216 488h1v1h-1zM400 488h1v1h-1zM676 488h1v1h-1zM907 488h2v1h-2zM49 489h3v1h-3zM212 489h1v1h-1zM401 489h2v1h-2zM672 489h4v1h-4zM52 490h1v1h-1zM208 490h4v1h-4zM403 490h1v1h-1zM664 490h5v1h-5zM912 490h1v1h-1zM56 491h1v1h-1zM204 491h1v1h-1zM404 491h1v1h-1zM656 491h5v1h-5zM913 491h2v1h-2zM57 492h2v1h-2zM200 492h4v1h-4zM632 492h5v1h-5zM640 492h5v1h-5zM648 492h5v1h-5zM915 492h2v1h-2zM59 493h2v1h-2zM192 493h5v1h-5zM624 493h5v1h-5zM184 494h5v1h-5zM408 494h2v1h-2zM616 494h5v1h-5zM64 495h1v1h-1zM180 495h1v1h-1zM410 495h1v1h-1zM612 495h1v1h-1zM920 495h2v1h-2zM65 496h3v1h-3zM176 496h4v1h-4zM411 496h1v1h-1zM609 496h3v1h-3zM922 496h1v1h-1zM68 497h1v1h-1zM168 497h5v1h-5zM412 497h1v1h-1zM608 497h1v1h-1zM923 497h1v1h-1zM72 498h1v1h-1zM164 498h1v1h-1zM604 498h1v1h-1zM924 498h1v1h-1zM73 499h3v1h-3zM160 499h4v1h-4zM601 499h3v1h-3zM76 500h1v1h-1zM152 500h5v1h-5zM416 500h1v1h-1zM600 500h1v1h-1zM80 501h1v1h-1zM144 501h5v1h-5zM417 501h1v1h-1zM928 501h2v1h-2zM81 502h3v1h-3zM140 502h1v1h-1zM418 502h1v1h-1zM595 502h2v1h-2zM930 502h1v1h-1zM84 503h1v1h-1zM136 503h4v1h-4zM419 503h1v1h-1zM594 503h1v1h-1zM931 503h1v1h-1zM88 504h5v1h-5zM128 504h5v1h-5zM420 504h1v1h-1zM592 504h2v1h-2zM932 504h1v1h-1zM96 505h5v1h-5zM120 505h5v1h-5zM104 506h5v1h-5zM112 506h5v1h-5zM424 507h2v1h-2zM587 507h2v1h-2zM936 507h2v1h-2zM426 508h1v1h-1zM586 508h1v1h-1zM938 508h2v1h-2zM427 509h1v1h-1zM584 509h2v1h-2zM940 509h1v1h-1zM428 510h1v1h-1zM944 510h1v1h-1zM945 511h2v1h-2zM579 512h2v1h-2zM432 513h1v1h-1zM578 513h1v1h-1zM433 514h1v1h-1zM576 514h2v1h-2zM434 515h1v1h-1zM435 516h1v1h-1zM436 517h1v1h-1zM571 517h2v1h-2zM570 518h1v1h-1zM569 519h1v1h-1zM440 520h2v1h-2zM568 520h1v1h-1zM442 521h1v1h-1zM443 522h2v1h-2zM564 523h1v1h-1zM448 524h1v1h-1zM563 524h1v1h-1zM449 525h2v1h-2zM562 525h1v1h-1zM451 526h2v1h-2zM560 526h2v1h-2zM456 528h1v1h-1zM457 529h2v1h-2zM556 529h1v1h-1zM459 530h2v1h-2zM555 530h1v1h-1zM554 531h1v1h-1zM464 532h1v1h-1zM552 532h2v1h-2zM465 533h3v1h-3zM468 534h1v1h-1zM472 535h4v1h-4zM548 535h1v1h-1zM476 536h1v1h-1zM547 536h1v1h-1zM480 537h1v1h-1zM545 537h2v1h-2zM481 538h2v1h-2zM544 538h1v1h-1zM483 539h2v1h-2zM539 540h2v1h-2zM488 541h1v1h-1zM536 541h3v1h-3zM489 542h3v1h-3zM532 542h1v1h-1zM492 543h1v1h-1zM528 543h4v1h-4zM496 544h5v1h-5zM520 544h5v1h-5zM504 545h5v1h-5zM512 545h5v1h-5z" fill="#ff0000" shape-rendering="crispEdges"/>
<g shape-rendering="crispEdges">
 <line x1="11" y1="601.5" x2="1202" y2="601.5" stroke="#c0c0c0" stroke-width="1" stroke-dasharray="3 3"/>
 <line x1="11" y1="641.5" x2="1202" y2="641.5" stroke="#c0c0c0" stroke-width="1" stroke-dasharray="3 3"/>
</g>
<path d="M681 616h11v1h-11zM657 617h3v1h-3zM679 617h2v1h-2zM692 617h2v1h-2zM654 618h3v1h-3zM660 618h2v1h-2zM677 618h2v1h-2zM694 618h3v1h-3zM652 619h2v1h-2zM662 619h3v1h-3zM675 619h2v1h-2zM697 619h10v1h-10zM737 619h2v1h-2zM321 620h2v1h-2zM650 620h2v1h-2zM665 620h10v1h-10zM707 620h2v1h-2zM734 620h3v1h-3zM739 620h1v1h-1zM209 621h2v1h-2zM318 621h3v1h-3zM323 621h1v1h-1zM649 621h1v1h-1zM709 621h2v1h-2zM732 621h2v1h-2zM739 621h1v1h-1zM800 621h4v1h-4zM816 621h3v1h-3zM185 622h3v1h-3zM207 622h2v1h-2zM211 622h2v1h-2zM257 622h2v1h-2zM316 622h2v1h-2zM324 622h2v1h-2zM506 622h2v1h-2zM576 622h4v1h-4zM649 622h1v1h-1zM711 622h2v1h-2zM728 622h4v1h-4zM740 622h1v1h-1zM796 622h4v1h-4zM804 622h4v1h-4zM812 622h4v1h-4zM819 622h2v1h-2zM183 623h2v1h-2zM188 623h2v1h-2zM205 623h2v1h-2zM213 623h2v1h-2zM224 623h3v1h-3zM255 623h2v1h-2zM259 623h1v1h-1zM312 623h4v1h-4zM326 623h1v1h-1zM505 623h1v1h-1zM508 623h2v1h-2zM529 623h5v1h-5zM572 623h4v1h-4zM580 623h4v1h-4zM648 623h1v1h-1zM713 623h5v1h-5zM724 623h4v1h-4zM741 623h1v1h-1zM770 623h2v1h-2zM793 623h3v1h-3zM808 623h4v1h-4zM821 623h1v1h-1zM170 624h2v1h-2zM181 624h2v1h-2zM190 624h3v1h-3zM203 624h2v1h-2zM215 624h2v1h-2zM220 624h4v1h-4zM227 624h1v1h-1zM253 624h2v1h-2zM260 624h1v1h-1zM308 624h4v1h-4zM327 624h1v1h-1zM336 624h4v1h-4zM504 624h1v1h-1zM510 624h3v1h-3zM526 624h3v1h-3zM534 624h38v1h-38zM584 624h12v1h-12zM647 624h1v1h-1zM718 624h6v1h-6zM741 624h1v1h-1zM769 624h1v1h-1zM772 624h4v1h-4zM790 624h3v1h-3zM822 624h2v1h-2zM832 624h6v1h-6zM120 625h3v1h-3zM168 625h2v1h-2zM172 625h4v1h-4zM179 625h2v1h-2zM193 625h10v1h-10zM217 625h3v1h-3zM228 625h1v1h-1zM251 625h2v1h-2zM261 625h1v1h-1zM305 625h3v1h-3zM328 625h2v1h-2zM332 625h4v1h-4zM340 625h4v1h-4zM502 625h2v1h-2zM513 625h5v1h-5zM524 625h2v1h-2zM596 625h4v1h-4zM646 625h1v1h-1zM742 625h1v1h-1zM768 625h1v1h-1zM776 625h6v1h-6zM788 625h2v1h-2zM824 625h2v1h-2zM828 625h4v1h-4zM838 625h6v1h-6zM97 626h3v1h-3zM116 626h4v1h-4zM123 626h2v1h-2zM166 626h2v1h-2zM176 626h3v1h-3zM229 626h1v1h-1zM248 626h3v1h-3zM262 626h2v1h-2zM282 626h10v1h-10zM302 626h3v1h-3zM330 626h2v1h-2zM344 626h4v1h-4zM501 626h1v1h-1zM518 626h6v1h-6zM600 626h4v1h-4zM646 626h1v1h-1zM743 626h1v1h-1zM768 626h1v1h-1zM782 626h6v1h-6zM826 626h2v1h-2zM844 626h4v1h-4zM94 627h3v1h-3zM100 627h4v1h-4zM110 627h6v1h-6zM125 627h1v1h-1zM165 627h1v1h-1zM230 627h1v1h-1zM244 627h4v1h-4zM264 627h1v1h-1zM280 627h2v1h-2zM292 627h4v1h-4zM300 627h2v1h-2zM348 627h4v1h-4zM500 627h1v1h-1zM604 627h2v1h-2zM645 627h1v1h-1zM743 627h1v1h-1zM767 627h1v1h-1zM848 627h4v1h-4zM92 628h2v1h-2zM104 628h6v1h-6zM126 628h2v1h-2zM163 628h2v1h-2zM230 628h1v1h-1zM241 628h3v1h-3zM265 628h1v1h-1zM278 628h2v1h-2zM296 628h4v1h-4zM352 628h3v1h-3zM499 628h1v1h-1zM606 628h3v1h-3zM644 628h1v1h-1zM744 628h1v1h-1zM766 628h1v1h-1zM852 628h2v1h-2zM86 629h6v1h-6zM128 629h2v1h-2zM153 629h10v1h-10zM231 629h1v1h-1zM239 629h2v1h-2zM266 629h2v1h-2zM277 629h1v1h-1zM355 629h2v1h-2zM450 629h1v1h-1zM498 629h1v1h-1zM609 629h3v1h-3zM643 629h1v1h-1zM745 629h1v1h-1zM765 629h1v1h-1zM854 629h3v1h-3zM82 630h4v1h-4zM130 630h2v1h-2zM151 630h2v1h-2zM232 630h1v1h-1zM237 630h2v1h-2zM268 630h4v1h-4zM275 630h2v1h-2zM357 630h2v1h-2zM449 630h1v1h-1zM451 630h1v1h-1zM497 630h1v1h-1zM612 630h4v1h-4zM622 630h8v1h-8zM643 630h1v1h-1zM745 630h1v1h-1zM764 630h1v1h-1zM857 630h2v1h-2zM81 631h1v1h-1zM132 631h4v1h-4zM149 631h2v1h-2zM233 631h1v1h-1zM235 631h2v1h-2zM272 631h3v1h-3zM359 631h2v1h-2zM449 631h1v1h-1zM452 631h2v1h-2zM497 631h1v1h-1zM616 631h6v1h-6zM630 631h13v1h-13zM746 631h2v1h-2zM764 631h1v1h-1zM859 631h2v1h-2zM18 632h2v1h-2zM58 632h9v1h-9zM80 632h1v1h-1zM136 632h6v1h-6zM147 632h2v1h-2zM234 632h1v1h-1zM361 632h5v1h-5zM448 632h1v1h-1zM454 632h1v1h-1zM496 632h1v1h-1zM748 632h4v1h-4zM763 632h1v1h-1zM861 632h1v1h-1zM16 633h2v1h-2zM20 633h2v1h-2zM57 633h1v1h-1zM67 633h1v1h-1zM79 633h1v1h-1zM142 633h5v1h-5zM366 633h5v1h-5zM448 633h1v1h-1zM455 633h1v1h-1zM495 633h1v1h-1zM752 633h11v1h-11zM862 633h2v1h-2zM14 634h2v1h-2zM22 634h3v1h-3zM57 634h1v1h-1zM68 634h1v1h-1zM78 634h1v1h-1zM371 634h1v1h-1zM447 634h1v1h-1zM456 634h2v1h-2zM494 634h1v1h-1zM864 634h2v1h-2zM946 634h1v1h-1zM13 635h1v1h-1zM25 635h3v1h-3zM56 635h1v1h-1zM69 635h1v1h-1zM78 635h1v1h-1zM372 635h1v1h-1zM447 635h1v1h-1zM458 635h2v1h-2zM494 635h1v1h-1zM866 635h2v1h-2zM944 635h2v1h-2zM11 636h2v1h-2zM28 636h2v1h-2zM56 636h1v1h-1zM70 636h2v1h-2zM77 636h1v1h-1zM372 636h1v1h-1zM446 636h1v1h-1zM460 636h4v1h-4zM493 636h1v1h-1zM868 636h2v1h-2zM943 636h1v1h-1zM10 637h1v1h-1zM30 637h3v1h-3zM55 637h1v1h-1zM72 637h1v1h-1zM76 637h1v1h-1zM373 637h1v1h-1zM426 637h2v1h-2zM446 637h1v1h-1zM464 637h3v1h-3zM492 637h1v1h-1zM870 637h3v1h-3zM896 637h3v1h-3zM942 637h1v1h-1zM33 638h3v1h-3zM55 638h1v1h-1zM73 638h1v1h-1zM75 638h1v1h-1zM374 638h1v1h-1zM425 638h1v1h-1zM428 638h4v1h-4zM445 638h1v1h-1zM467 638h2v1h-2zM491 638h1v1h-1zM873 638h3v1h-3zM892 638h4v1h-4zM899 638h1v1h-1zM940 638h2v1h-2zM36 639h4v1h-4zM54 639h1v1h-1zM74 639h1v1h-1zM375 639h1v1h-1zM425 639h1v1h-1zM432 639h3v1h-3zM445 639h1v1h-1zM469 639h2v1h-2zM491 639h1v1h-1zM876 639h4v1h-4zM886 639h6v1h-6zM900 639h2v1h-2zM939 639h1v1h-1zM40 640h3v1h-3zM53 640h1v1h-1zM376 640h1v1h-1zM424 640h1v1h-1zM435 640h2v1h-2zM444 640h1v1h-1zM471 640h2v1h-2zM490 640h1v1h-1zM880 640h6v1h-6zM902 640h1v1h-1zM922 640h1v1h-1zM938 640h1v1h-1zM43 641h1v1h-1zM53 641h1v1h-1zM376 641h1v1h-1zM424 641h1v1h-1zM437 641h1v1h-1zM444 641h1v1h-1zM473 641h2v1h-2zM488 641h2v1h-2zM903 641h1v1h-1zM921 641h1v1h-1zM923 641h2v1h-2zM936 641h2v1h-2zM44 642h2v1h-2zM52 642h1v1h-1zM377 642h1v1h-1zM423 642h1v1h-1zM438 642h2v1h-2zM443 642h1v1h-1zM475 642h2v1h-2zM487 642h1v1h-1zM904 642h2v1h-2zM920 642h1v1h-1zM925 642h1v1h-1zM934 642h2v1h-2zM46 643h1v1h-1zM52 643h1v1h-1zM378 643h2v1h-2zM423 643h1v1h-1zM440 643h2v1h-2zM443 643h1v1h-1zM477 643h1v1h-1zM486 643h1v1h-1zM906 643h1v1h-1zM920 643h1v1h-1zM926 643h2v1h-2zM933 643h1v1h-1zM47 644h1v1h-1zM51 644h1v1h-1zM380 644h2v1h-2zM422 644h1v1h-1zM442 644h1v1h-1zM478 644h2v1h-2zM484 644h2v1h-2zM907 644h1v1h-1zM919 644h1v1h-1zM928 644h2v1h-2zM931 644h2v1h-2zM48 645h2v1h-2zM51 645h1v1h-1zM382 645h3v1h-3zM422 645h1v1h-1zM480 645h2v1h-2zM483 645h1v1h-1zM908 645h1v1h-1zM918 645h1v1h-1zM930 645h1v1h-1zM50 646h1v1h-1zM385 646h3v1h-3zM421 646h1v1h-1zM482 646h1v1h-1zM909 646h1v1h-1zM917 646h1v1h-1zM388 647h2v1h-2zM421 647h1v1h-1zM910 647h2v1h-2zM916 647h1v1h-1zM390 648h3v1h-3zM420 648h1v1h-1zM912 648h1v1h-1zM916 648h1v1h-1zM393 649h3v1h-3zM420 649h1v1h-1zM913 649h1v1h-1zM915 649h1v1h-1zM396 650h4v1h-4zM419 650h1v1h-1zM914 650h1v1h-1zM400 651h6v1h-6zM419 651h1v1h-1zM406 652h13v1h-13z" fill="#1187ff" shape-rendering="crispEdges"/>
<g shape-rendering="crispEdges" fill="#000">
<rect x="9" y="6" width="1194" height="1"/>
<rect x="9" y="6" width="1" height="449"/>
<rect x="9" y="454" width="1194" height="1"/>
<rect x="1202" y="6" width="1" height="449"/><rect x="1202" y="456" width="1" height="113"/><rect x="1202" y="570" width="1" height="102"/>
<rect x="9" y="456" width="1194" height="1"/>
<rect x="9" y="456" width="1" height="113"/>
<rect x="9" y="568" width="1194" height="1"/>
<rect x="9" y="570" width="1194" height="1"/>
<rect x="9" y="570" width="1" height="102"/>
<rect x="9" y="671" width="1194" height="1"/>
<rect x="1203" y="22" width="2" height="1"/><rect x="1203" y="55" width="2" height="1"/><rect x="1203" y="88" width="2" height="1"/><rect x="1203" y="121" width="2" height="1"/><rect x="1203" y="154" width="2" height="1"/><rect x="1203" y="187" width="2" height="1"/><rect x="1203" y="220" width="2" height="1"/><rect x="1203" y="253" width="2" height="1"/><rect x="1203" y="286" width="2" height="1"/><rect x="1203" y="319" width="2" height="1"/><rect x="1203" y="352" width="2" height="1"/><rect x="1203" y="385" width="2" height="1"/><rect x="1203" y="418" width="2" height="1"/><rect x="1203" y="451" width="2" height="1"/><rect x="1203" y="458" width="1" height="1"/><rect x="1204" y="458" width="1" height="1" fill="#777"/><rect x="1203" y="462" width="1" height="1"/><rect x="1204" y="462" width="1" height="1" fill="#777"/><rect x="1203" y="567" width="1" height="1"/><rect x="1203" y="572" width="1" height="1"/><rect x="10" y="672" width="1" height="3"/><rect x="74" y="672" width="1" height="3"/><rect x="138" y="672" width="1" height="3"/><rect x="202" y="672" width="1" height="3"/><rect x="266" y="672" width="1" height="3"/><rect x="330" y="672" width="1" height="3"/><rect x="394" y="672" width="1" height="3"/><rect x="458" y="672" width="1" height="3"/><rect x="522" y="672" width="1" height="3"/><rect x="586" y="672" width="1" height="3"/><rect x="650" y="672" width="1" height="3"/><rect x="714" y="672" width="1" height="3"/><rect x="778" y="672" width="1" height="3"/><rect x="842" y="672" width="1" height="3"/><rect x="906" y="672" width="1" height="3"/>
</g>
<rect x="10" y="407" width="1193" height="2" fill="#00d400" shape-rendering="crispEdges"/>
<polygon points="957.5,7 967.5,7 962.5,12.3" fill="#c0c0c0"/>
<polygon points="12.8,13 20.2,13 16.5,17.2" fill="#000"/>
<text class="s" x="24.30" y="17.6" textLength="65.79" lengthAdjust="spacingAndGlyphs">CHINA300-,H4</text>
<text class="s" x="95.66" y="17.6" textLength="27.64" lengthAdjust="spacingAndGlyphs">3826.6</text>
<text class="s" x="126.65" y="17.6" textLength="28.11" lengthAdjust="spacingAndGlyphs">3884.2</text>
<text class="s" x="158.06" y="17.6" textLength="27.54" lengthAdjust="spacingAndGlyphs">3825.6</text>
<text class="s" x="188.45" y="17.6" textLength="28.22" lengthAdjust="spacingAndGlyphs">3884.2</text>
<text class="s" x="1207.69" y="25.6" textLength="27.86" lengthAdjust="spacingAndGlyphs">4740.0</text>
<text class="s" x="1207.69" y="58.6" textLength="27.86" lengthAdjust="spacingAndGlyphs">4664.0</text>
<text class="s" x="1207.69" y="91.6" textLength="27.86" lengthAdjust="spacingAndGlyphs">4588.0</text>
<text class="s" x="1207.69" y="124.6" textLength="27.86" lengthAdjust="spacingAndGlyphs">4512.0</text>
<text class="s" x="1207.69" y="157.6" textLength="27.86" lengthAdjust="spacingAndGlyphs">4436.0</text>
<text class="s" x="1207.69" y="190.6" textLength="27.86" lengthAdjust="spacingAndGlyphs">4360.0</text>
<text class="s" x="1207.69" y="223.6" textLength="27.86" lengthAdjust="spacingAndGlyphs">4284.0</text>
<text class="s" x="1207.69" y="256.6" textLength="27.86" lengthAdjust="spacingAndGlyphs">4208.0</text>
<text class="s" x="1207.69" y="289.6" textLength="27.86" lengthAdjust="spacingAndGlyphs">4132.0</text>
<text class="s" x="1207.69" y="322.6" textLength="27.86" lengthAdjust="spacingAndGlyphs">4056.0</text>
<text class="s" x="1207.55" y="355.6" textLength="28.01" lengthAdjust="spacingAndGlyphs">3980.0</text>
<text class="s" x="1207.55" y="388.6" textLength="28.01" lengthAdjust="spacingAndGlyphs">3904.0</text>
<text class="s" x="1207.55" y="421.6" textLength="28.01" lengthAdjust="spacingAndGlyphs">3828.0</text>
<text class="s" x="1207.55" y="454.6" textLength="28.01" lengthAdjust="spacingAndGlyphs">3752.0</text>
<rect x="1205" y="142" width="34" height="11" fill="#ff0000" shape-rendering="crispEdges"/>
<text class="w" x="1207.69" y="150.6" textLength="27.86" lengthAdjust="spacingAndGlyphs">4450.0</text>
<rect x="1205" y="201" width="34" height="11" fill="#ff0000" shape-rendering="crispEdges"/>
<text class="w" x="1207.69" y="209.6" textLength="27.86" lengthAdjust="spacingAndGlyphs">4315.0</text>
<rect x="1205" y="266" width="34" height="11" fill="#ff0000" shape-rendering="crispEdges"/>
<text class="w" x="1207.69" y="274.6" textLength="27.86" lengthAdjust="spacingAndGlyphs">4165.0</text>
<rect x="1205" y="329" width="34" height="11" fill="#ff0000" shape-rendering="crispEdges"/>
<text class="w" x="1207.69" y="337.6" textLength="27.86" lengthAdjust="spacingAndGlyphs">4020.0</text>
<rect x="1205" y="389" width="34" height="11" fill="#000" shape-rendering="crispEdges"/>
<text class="w" x="1207.55" y="397.6" textLength="28.11" lengthAdjust="spacingAndGlyphs">3884.2</text>
<rect x="1205" y="402" width="34" height="11" fill="#00d400" shape-rendering="crispEdges"/>
<text class="w" x="1207.55" y="410.6" textLength="28.01" lengthAdjust="spacingAndGlyphs">3850.0</text>
<text class="s" x="13.33" y="468.6" textLength="124.12" lengthAdjust="spacingAndGlyphs">MACD(12,26,9) -88.99 -66.79</text>
<text class="s" x="1205.52" y="465.6" textLength="18.86" lengthAdjust="spacingAndGlyphs">0.00</text>
<text class="s" x="1205.48" y="466.6" textLength="18.80" lengthAdjust="spacingAndGlyphs">8.84</text>
<text class="s" x="1205.38" y="564.6" textLength="31.89" lengthAdjust="spacingAndGlyphs">-140.44</text>
<text class="s" x="13.13" y="582.6" textLength="68.95" lengthAdjust="spacingAndGlyphs">RSI(14) 37.7744</text>
<text class="s" x="1205.93" y="580.6" textLength="14.72" lengthAdjust="spacingAndGlyphs">100</text>
<text class="s" x="1204.23" y="604.6" textLength="10.23" lengthAdjust="spacingAndGlyphs">70</text>
<text class="s" x="1204.35" y="644.6" textLength="10.10" lengthAdjust="spacingAndGlyphs">30</text>
<text class="s" x="1206.18" y="667.6" textLength="4.54" lengthAdjust="spacingAndGlyphs">0</text>
<text class="s" x="8.14" y="683.6" textLength="50.73" lengthAdjust="spacingAndGlyphs">26 Jan 2022</text>
<text class="s" x="72.29" y="683.6" textLength="50.07" lengthAdjust="spacingAndGlyphs">8 Feb 01:30</text>
<text class="s" x="136.79" y="683.6" textLength="55.08" lengthAdjust="spacingAndGlyphs">14 Feb 01:30</text>
<text class="s" x="201.09" y="683.6" textLength="54.57" lengthAdjust="spacingAndGlyphs">18 Feb 01:30</text>
<text class="s" x="264.33" y="683.6" textLength="54.83" lengthAdjust="spacingAndGlyphs">24 Feb 01:30</text>
<text class="s" x="328.53" y="683.6" textLength="50.24" lengthAdjust="spacingAndGlyphs">2 Mar 01:30</text>
<text class="s" x="392.39" y="683.6" textLength="50.07" lengthAdjust="spacingAndGlyphs">8 Mar 01:30</text>
<text class="s" x="456.79" y="683.6" textLength="55.08" lengthAdjust="spacingAndGlyphs">14 Mar 01:30</text>
<text class="s" x="521.09" y="683.6" textLength="54.57" lengthAdjust="spacingAndGlyphs">18 Mar 01:30</text>
<text class="s" x="584.33" y="683.6" textLength="54.83" lengthAdjust="spacingAndGlyphs">24 Mar 01:30</text>
<text class="s" x="648.14" y="683.6" textLength="55.22" lengthAdjust="spacingAndGlyphs">30 Mar 01:30</text>
<text class="s" x="712.32" y="683.6" textLength="48.85" lengthAdjust="spacingAndGlyphs">7 Apr 01:30</text>
<text class="s" x="776.78" y="683.6" textLength="53.78" lengthAdjust="spacingAndGlyphs">13 Apr 01:30</text>
<text class="s" x="841.09" y="683.6" textLength="53.27" lengthAdjust="spacingAndGlyphs">19 Apr 01:30</text>
<text class="s" x="904.33" y="683.6" textLength="54.04" lengthAdjust="spacingAndGlyphs">25 Apr 01:30</text>
<text x="918.7" y="250.2" font-size="34.65" fill="#ff0000" style="font-family:'Liberation Sans','Noto Sans CJK SC',sans-serif;">多空转折点</text>
<text x="1093.3" y="250.6" font-size="38.2" fill="#ff0000" stroke="#fff" stroke-width="0.55" paint-order="fill stroke" textLength="84.3" lengthAdjust="spacingAndGlyphs">3850</text>
</svg>
</body></html>
